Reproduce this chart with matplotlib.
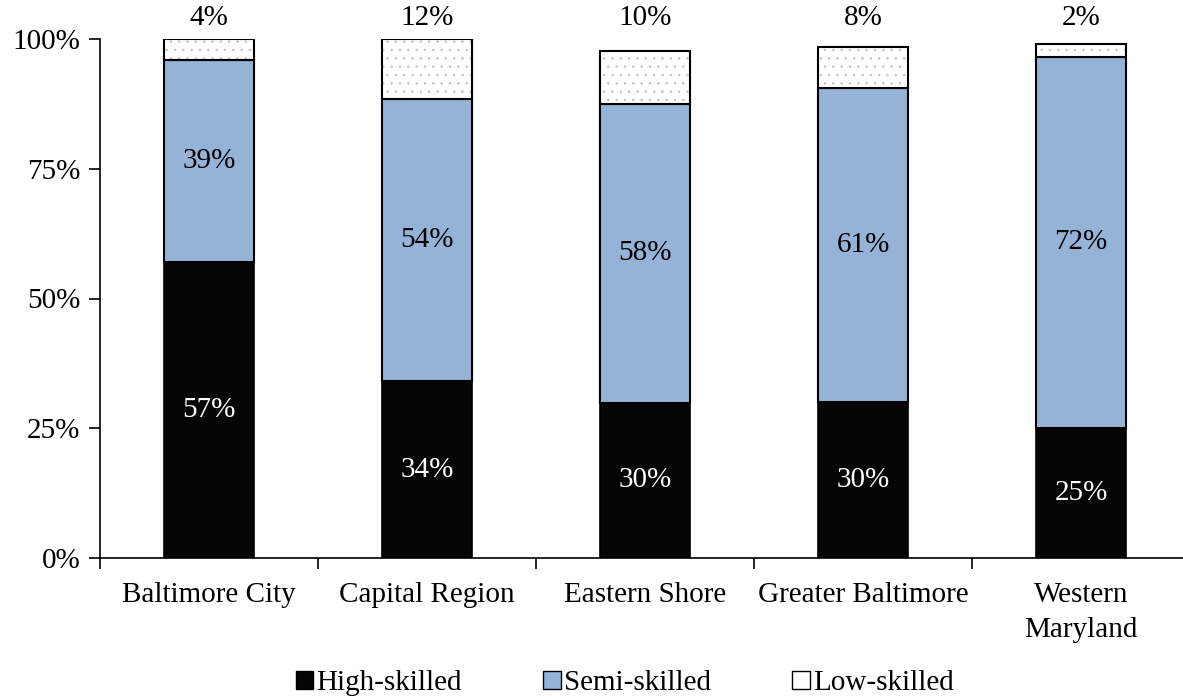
import matplotlib as mpl
mpl.use('Agg')
import matplotlib.pyplot as plt
from matplotlib.patches import Patch
import numpy as np

plt.rcParams['font.family'] = ['Liberation Serif', 'DejaVu Serif']
plt.rcParams['font.size'] = 21
plt.rcParams['hatch.linewidth'] = 0.6

regions = ['Baltimore City', 'Capital Region', 'Eastern Shore', 'Greater Baltimore', 'Western\nMaryland']
high = [57.0, 34.1, 29.9, 30.0, 25.0]
semi = [39.0, 54.3, 57.6, 60.6, 71.6]
low = [4.0, 11.6, 10.2, 7.8, 2.4]

c_high = '#050505'
c_semi = '#95b3d7'

fig = plt.figure(figsize=(11.83, 6.96), dpi=100)
ax = fig.add_axes([100 / 1183, (696 - 558) / 696, 1090 / 1183, (558 - 39) / 696])

x = np.arange(len(regions))
w = 0.41
high = np.array(high)
semi = np.array(semi)
low = np.array(low)

ax.bar(x, high, w, color=c_high, edgecolor='black', linewidth=1.2)
ax.bar(x, semi, w, bottom=high, color=c_semi, edgecolor='black', linewidth=1.5)
# dotted low-skilled segment: grey dots, black outline
ax.bar(x, low, w, bottom=high + semi, color='white', edgecolor='#c4c4c4', linewidth=0, hatch='..')
ax.bar(x, low, w, bottom=high + semi, fill=False, edgecolor='black', linewidth=1.5)

for i in range(len(regions)):
    ax.text(x[i], high[i] / 2, f'{round(high[i])}%', ha='center', va='center', color='white')
    ax.text(x[i], high[i] + semi[i] / 2, f'{round(semi[i])}%', ha='center', va='center', color='black')
    # low-skilled labels sit in a row above the bars
    ax.text(x[i], 104, f'{round(low[i])}%', ha='center', va='center', clip_on=False)

ax.set_xlim(-0.5, 4.5)
ax.set_ylim(0, 100)
ax.set_yticks([0, 25, 50, 75, 100])
ax.set_yticklabels(['0%', '25%', '50%', '75%', '100%'])
ax.set_xticks(x)
ax.set_xticklabels(regions, linespacing=1.45)
ax.set_xticks(np.arange(-0.5, 4.5, 1), minor=True)
ax.tick_params(axis='x', which='major', length=0, pad=17)
ax.tick_params(axis='x', which='minor', length=8, width=1.2, direction='out')
ax.tick_params(axis='y', length=8, width=1.2, direction='out', pad=6)
ax.spines['top'].set_visible(False)
ax.spines['right'].set_visible(False)
ax.spines['left'].set_linewidth(1.2)
ax.spines['bottom'].set_linewidth(1.2)

handles = [Patch(facecolor=c_high, edgecolor='black', label='High-skilled'),
           Patch(facecolor=c_semi, edgecolor='black', label='Semi-skilled'),
           Patch(facecolor='white', edgecolor='black', label='Low-skilled')]
fig.legend(handles=handles, loc='center', bbox_to_anchor=(0.528, 0.018), ncol=3, frameon=False,
           handlelength=0.6, handleheight=0.6, handletextpad=0.1, columnspacing=2.8)

fig.savefig('out.png', dpi=100)
